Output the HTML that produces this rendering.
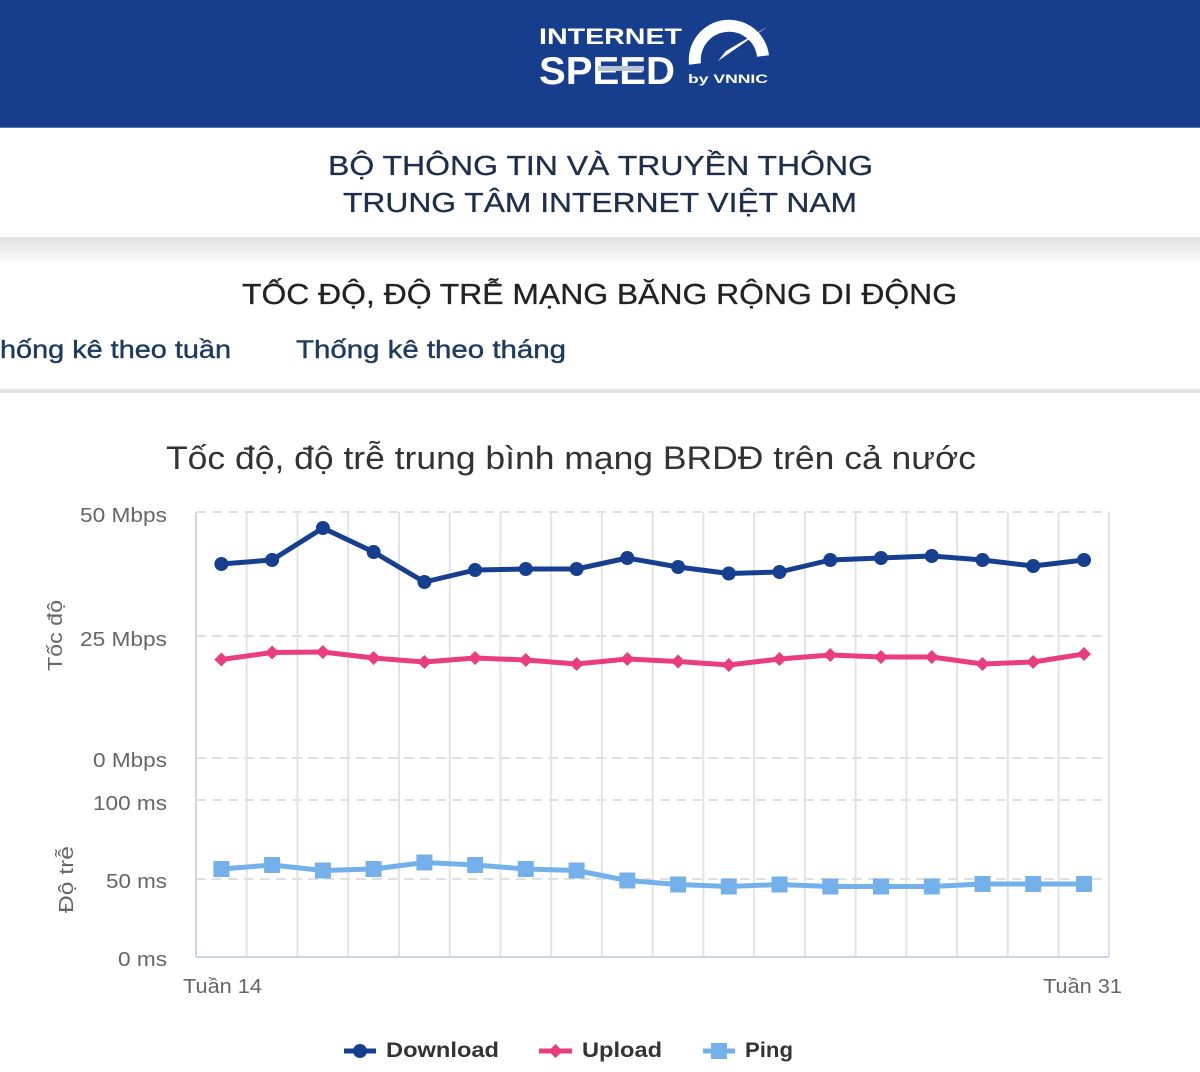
<!DOCTYPE html>
<html><head><meta charset="utf-8"><style>
html,body{margin:0;padding:0;background:#fff;}
svg{display:block;}
text{font-family:"Liberation Sans","DejaVu Sans",sans-serif;}
</style></head><body>
<svg width="1200" height="1072" viewBox="0 0 1200 1072" xmlns="http://www.w3.org/2000/svg">
<defs>
<linearGradient id="sh" x1="0" y1="0" x2="0" y2="1">
<stop offset="0" stop-color="#e2e2e2"/><stop offset="1" stop-color="#ffffff"/>
</linearGradient>
</defs>
<rect width="1200" height="1072" fill="#fff"/>
<!-- header -->
<rect x="0" y="0" width="1200" height="127" fill="#173e8d"/>
<rect x="0" y="127" width="1200" height="1" fill="#5a78b5"/>
<text x="539" y="44" font-size="22" font-weight="bold" fill="#fff" textLength="143" lengthAdjust="spacingAndGlyphs">INTERNET</text>
<text x="539" y="84" font-size="39" font-weight="bold" fill="#fff" textLength="136" lengthAdjust="spacingAndGlyphs">SPEED</text>
<rect x="598" y="66" width="46" height="5" fill="#b9c3d6"/>
<text x="688" y="83" font-size="12" font-weight="bold" fill="#fff" textLength="80" lengthAdjust="spacingAndGlyphs">by VNNIC</text>
<path d="M695 64 A34 34 0 0 1 763 56" fill="none" stroke="#fff" stroke-width="12"/>
<polygon points="718,61 726,51 767,27" fill="#fff"/>
<!-- titles -->
<text x="328" y="175" font-size="28" fill="#1c2f4d" stroke="#1c2f4d" stroke-width="0.3" textLength="545" lengthAdjust="spacingAndGlyphs">BỘ THÔNG TIN VÀ TRUYỀN THÔNG</text>
<text x="343" y="212" font-size="28" fill="#1c2f4d" stroke="#1c2f4d" stroke-width="0.3" textLength="514" lengthAdjust="spacingAndGlyphs">TRUNG TÂM INTERNET VIỆT NAM</text>
<rect x="0" y="237" width="1200" height="28" fill="url(#sh)"/>
<text x="242" y="304" font-size="29" fill="#222" stroke="#222" stroke-width="0.3" textLength="715" lengthAdjust="spacingAndGlyphs">TỐC ĐỘ, ĐỘ TRỄ MẠNG BĂNG RỘNG DI ĐỘNG</text>
<text x="0" y="358" font-size="25" fill="#1d3a5f" stroke="#1d3a5f" stroke-width="0.4" textLength="231" lengthAdjust="spacingAndGlyphs">hống kê theo tuần</text>
<text x="296" y="358" font-size="25" fill="#1d3a5f" stroke="#1d3a5f" stroke-width="0.4" textLength="270" lengthAdjust="spacingAndGlyphs">Thống kê theo tháng</text>
<rect x="0" y="389" width="1200" height="4" fill="#e4e4e4"/>
<!-- chart title -->
<text x="166" y="469" font-size="32" fill="#333" textLength="810" lengthAdjust="spacingAndGlyphs">Tốc độ, độ trễ trung bình mạng BRDĐ trên cả nước</text>
<!-- grid verticals -->
<g stroke="#e3e3e3" stroke-width="2">
<line x1="246.7" y1="512" x2="246.7" y2="957"/><line x1="297.5" y1="512" x2="297.5" y2="957"/>
<line x1="348.2" y1="512" x2="348.2" y2="957"/><line x1="399" y1="512" x2="399" y2="957"/>
<line x1="449.7" y1="512" x2="449.7" y2="957"/><line x1="500.4" y1="512" x2="500.4" y2="957"/>
<line x1="551.2" y1="512" x2="551.2" y2="957"/><line x1="601.9" y1="512" x2="601.9" y2="957"/>
<line x1="652.7" y1="512" x2="652.7" y2="957"/><line x1="703.4" y1="512" x2="703.4" y2="957"/>
<line x1="754.1" y1="512" x2="754.1" y2="957"/><line x1="804.9" y1="512" x2="804.9" y2="957"/>
<line x1="855.6" y1="512" x2="855.6" y2="957"/><line x1="906.4" y1="512" x2="906.4" y2="957"/>
<line x1="957.1" y1="512" x2="957.1" y2="957"/><line x1="1007.8" y1="512" x2="1007.8" y2="957"/>
<line x1="1058.6" y1="512" x2="1058.6" y2="957"/><line x1="1109" y1="512" x2="1109" y2="957"/>
</g>
<g stroke="#e0e0e0" stroke-width="2" stroke-dasharray="10,6">
<line x1="196" y1="512" x2="1109" y2="512"/>
<line x1="196" y1="636" x2="1109" y2="636"/>
<line x1="196" y1="758" x2="1109" y2="758"/>
<line x1="196" y1="800" x2="1109" y2="800"/>
<line x1="196" y1="879" x2="1109" y2="879"/>
</g>
<line x1="196" y1="512" x2="196" y2="957" stroke="#ccd6eb" stroke-width="2"/>
<line x1="196" y1="957" x2="1109" y2="957" stroke="#ccd6eb" stroke-width="2"/>
<!-- y labels -->
<g font-size="20" fill="#666">
<text x="80" y="522" textLength="87" lengthAdjust="spacingAndGlyphs">50 Mbps</text>
<text x="80" y="646" textLength="87" lengthAdjust="spacingAndGlyphs">25 Mbps</text>
<text x="93" y="767" textLength="74" lengthAdjust="spacingAndGlyphs">0 Mbps</text>
<text x="93" y="810" textLength="74" lengthAdjust="spacingAndGlyphs">100 ms</text>
<text x="106" y="888" textLength="61" lengthAdjust="spacingAndGlyphs">50 ms</text>
<text x="118" y="966" textLength="49" lengthAdjust="spacingAndGlyphs">0 ms</text>
</g>
<text transform="translate(62,671) rotate(-90)" font-size="20" fill="#666" textLength="71" lengthAdjust="spacingAndGlyphs">Tốc độ</text>
<text transform="translate(73,913) rotate(-90)" font-size="20" fill="#666" textLength="67" lengthAdjust="spacingAndGlyphs">Độ trễ</text>
<text x="183" y="993" font-size="20" fill="#666" textLength="79" lengthAdjust="spacingAndGlyphs">Tuần 14</text>
<text x="1043" y="993" font-size="20" fill="#666" textLength="79" lengthAdjust="spacingAndGlyphs">Tuần 31</text>
<!-- series: download -->
<polyline fill="none" stroke="#173f8f" stroke-width="5" stroke-linejoin="round" stroke-linecap="round"
points="221.4,564 272.1,560 322.9,528 373.6,552 424.4,582 475.1,570 525.8,569 576.6,569 627.3,558 678.1,567 728.8,573.5 779.5,572 830.3,560 881,558 931.8,556 982.5,560 1033.2,566 1084,560"/>
<g fill="#173f8f">
<circle cx="221.4" cy="564" r="7"/><circle cx="272.1" cy="560" r="7"/><circle cx="322.9" cy="528" r="7"/>
<circle cx="373.6" cy="552" r="7"/><circle cx="424.4" cy="582" r="7"/><circle cx="475.1" cy="570" r="7"/>
<circle cx="525.8" cy="569" r="7"/><circle cx="576.6" cy="569" r="7"/><circle cx="627.3" cy="558" r="7"/>
<circle cx="678.1" cy="567" r="7"/><circle cx="728.8" cy="573.5" r="7"/><circle cx="779.5" cy="572" r="7"/>
<circle cx="830.3" cy="560" r="7"/><circle cx="881" cy="558" r="7"/><circle cx="931.8" cy="556" r="7"/>
<circle cx="982.5" cy="560" r="7"/><circle cx="1033.2" cy="566" r="7"/><circle cx="1084" cy="560" r="7"/>
</g>
<!-- upload -->
<polyline fill="none" stroke="#ea3d80" stroke-width="5" stroke-linejoin="round" stroke-linecap="round"
points="221.4,659.5 272.1,652.5 322.9,652 373.6,658 424.4,662 475.1,658 525.8,660 576.6,664 627.3,659 678.1,661.5 728.8,665 779.5,659 830.3,655 881,657 931.8,657 982.5,664 1033.2,662 1084,654"/>
<g fill="#ea3d80">
<path d="M221.4,652.5l7,7l-7,7l-7,-7z"/><path d="M272.1,645.5l7,7l-7,7l-7,-7z"/><path d="M322.9,645l7,7l-7,7l-7,-7z"/>
<path d="M373.6,651l7,7l-7,7l-7,-7z"/><path d="M424.4,655l7,7l-7,7l-7,-7z"/><path d="M475.1,651l7,7l-7,7l-7,-7z"/>
<path d="M525.8,653l7,7l-7,7l-7,-7z"/><path d="M576.6,657l7,7l-7,7l-7,-7z"/><path d="M627.3,652l7,7l-7,7l-7,-7z"/>
<path d="M678.1,654.5l7,7l-7,7l-7,-7z"/><path d="M728.8,658l7,7l-7,7l-7,-7z"/><path d="M779.5,652l7,7l-7,7l-7,-7z"/>
<path d="M830.3,648l7,7l-7,7l-7,-7z"/><path d="M881,650l7,7l-7,7l-7,-7z"/><path d="M931.8,650l7,7l-7,7l-7,-7z"/>
<path d="M982.5,657l7,7l-7,7l-7,-7z"/><path d="M1033.2,655l7,7l-7,7l-7,-7z"/><path d="M1084,647l7,7l-7,7l-7,-7z"/>
</g>
<!-- ping -->
<polyline fill="none" stroke="#74b0ea" stroke-width="5" stroke-linejoin="round" stroke-linecap="round"
points="221.4,869 272.1,865 322.9,870.5 373.6,869 424.4,862.5 475.1,865 525.8,869 576.6,870.5 627.3,880.5 678.1,884.5 728.8,886.5 779.5,884.5 830.3,886.5 881,886.5 931.8,886.5 982.5,884 1033.2,884 1084,884"/>
<g fill="#74b0ea">
<rect x="213.4" y="861" width="16" height="16"/><rect x="264.1" y="857" width="16" height="16"/><rect x="314.9" y="862.5" width="16" height="16"/>
<rect x="365.6" y="861" width="16" height="16"/><rect x="416.4" y="854.5" width="16" height="16"/><rect x="467.1" y="857" width="16" height="16"/>
<rect x="517.8" y="861" width="16" height="16"/><rect x="568.6" y="862.5" width="16" height="16"/><rect x="619.3" y="872.5" width="16" height="16"/>
<rect x="670.1" y="876.5" width="16" height="16"/><rect x="720.8" y="878.5" width="16" height="16"/><rect x="771.5" y="876.5" width="16" height="16"/>
<rect x="822.3" y="878.5" width="16" height="16"/><rect x="873" y="878.5" width="16" height="16"/><rect x="923.8" y="878.5" width="16" height="16"/>
<rect x="974.5" y="876" width="16" height="16"/><rect x="1025.2" y="876" width="16" height="16"/><rect x="1076" y="876" width="16" height="16"/>
</g>
<!-- legend -->
<line x1="344" y1="1051" x2="376" y2="1051" stroke="#173f8f" stroke-width="5"/>
<circle cx="360" cy="1051" r="7" fill="#173f8f"/>
<text x="386" y="1057" font-size="21" font-weight="bold" fill="#333" textLength="113" lengthAdjust="spacingAndGlyphs">Download</text>
<line x1="539" y1="1051" x2="572" y2="1051" stroke="#ea3d80" stroke-width="5"/>
<path d="M555.5,1044l7,7l-7,7l-7,-7z" fill="#ea3d80"/>
<text x="582" y="1057" font-size="21" font-weight="bold" fill="#333" textLength="80" lengthAdjust="spacingAndGlyphs">Upload</text>
<line x1="703" y1="1051" x2="735" y2="1051" stroke="#74b0ea" stroke-width="5"/>
<rect x="711" y="1043" width="16" height="16" fill="#74b0ea"/>
<text x="745" y="1057" font-size="21" font-weight="bold" fill="#333" textLength="48" lengthAdjust="spacingAndGlyphs">Ping</text>
</svg>
</body></html>
